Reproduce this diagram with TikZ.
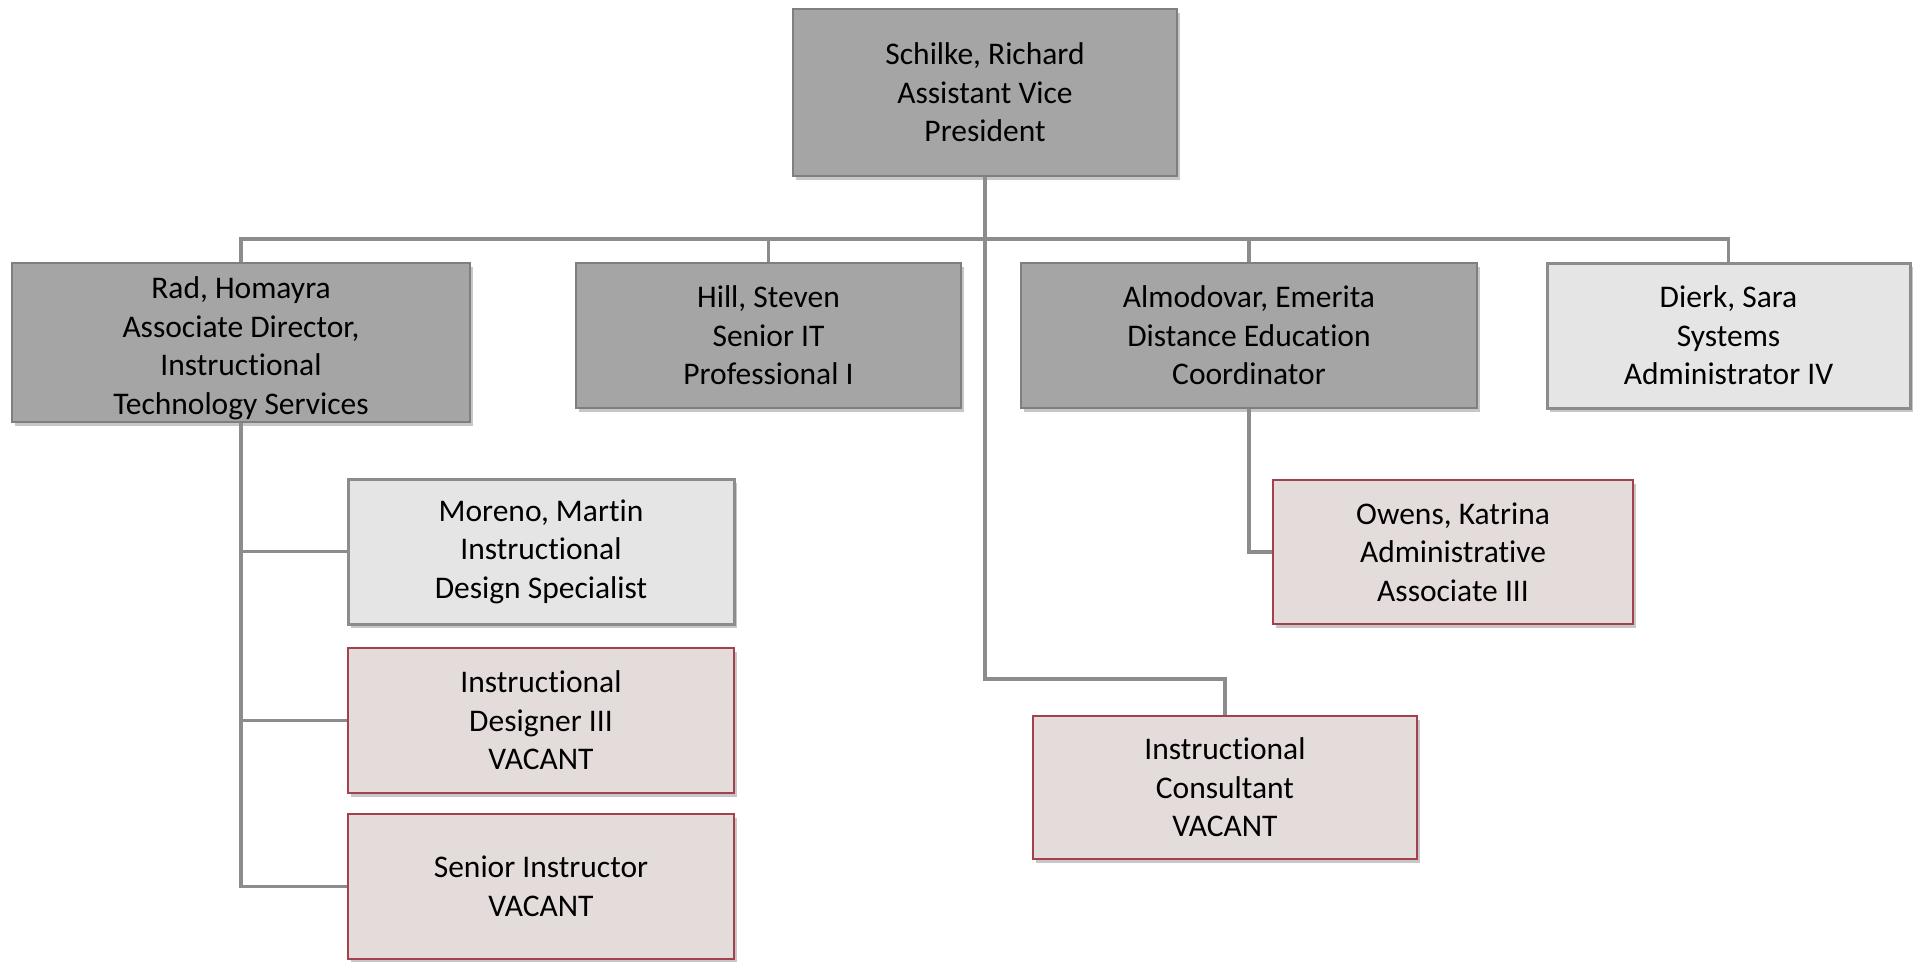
\documentclass[tikz,border=0pt]{standalone}
\usepackage{fontspec}
\setmainfont{Carlito}[Ligatures=NoCommon]
\usetikzlibrary{shadows}
\definecolor{darkfill}{HTML}{A5A5A5}
\definecolor{darkline}{HTML}{7F7F7F}
\definecolor{lightfill}{HTML}{E5E5E5}
\definecolor{lightline}{HTML}{8C8C8C}
\definecolor{pinkfill}{HTML}{E4DCDB}
\definecolor{pinkline}{HTML}{A5414F}
\definecolor{connc}{HTML}{8C8C8C}
\tikzset{
  box/.style={rectangle, inner sep=0pt, align=center, text=black,
    font=\fontsize{31.5}{38.5}\selectfont,
    drop shadow={shadow xshift=3pt, shadow yshift=-4pt, opacity=0.22, fill=black}},
  darkbox/.style={box, fill=darkfill, draw=darkline, line width=2pt},
  lightbox/.style={box, fill=lightfill, draw=lightline, line width=3pt},
  vacbox/.style={box, fill=pinkfill, draw=pinkline, line width=1.5pt},
  conn/.style={draw=connc, line width=3.5pt}
}
\begin{document}
\begin{tikzpicture}[x=1pt, y=-1pt]
\useasboundingbox (0,0) rectangle (1919,961);
\coordinate (bus) at (985,239);
\coordinate (elbow) at (985,679);
\node[darkbox, minimum width=384pt, minimum height=167pt] (top) at (985,92.5) {Schilke, Richard\\Assistant Vice\\President};
\node[darkbox, minimum width=458pt, minimum height=159pt] (rad) at (241,342.5) {\rule{0pt}{33pt}Rad, Homayra\\Associate Director,\\Instructional\\Technology Services};
\node[darkbox, minimum width=385pt, minimum height=145pt] (hill) at (768.5,335.5) {Hill, Steven\\Senior IT\\Professional I};
\node[darkbox, minimum width=456pt, minimum height=145pt] (alm) at (1249,335.5) {Almodovar, Emerita\\Distance Education\\Coordinator};
\node[lightbox, minimum width=363pt, minimum height=145pt] (dierk) at (1728.5,335.5) {Dierk, Sara\\Systems\\Administrator IV};
\node[lightbox, minimum width=386pt, minimum height=145pt] (moreno) at (541,551.5) {Moreno, Martin\\Instructional\\Design Specialist};
\node[vacbox, minimum width=386pt, minimum height=145pt] (des) at (541,720.5) {Instructional\\Designer III\\VACANT};
\node[vacbox, minimum width=386pt, minimum height=145pt] (senior) at (541,886.5) {Senior Instructor\\VACANT};
\node[vacbox, minimum width=360pt, minimum height=144pt] (owens) at (1453,552) {Owens, Katrina\\Administrative\\Associate III};
\node[vacbox, minimum width=384pt, minimum height=143pt] (consult) at (1225,787.5) {Instructional\\Consultant\\VACANT};
\draw[conn] (top.south) -- (bus);
\draw[conn] (rad.north) |- (bus) -| (dierk.north);
\draw[conn] (hill.north) -- (hill.north |- bus);
\draw[conn] (alm.north) -- (alm.north |- bus);
\draw[conn] (bus) -- (elbow) -| (consult.north);
\draw[conn] (rad.south) |- (senior.west);
\draw[conn] (rad.south |- moreno.west) -- (moreno.west);
\draw[conn] (rad.south |- des.west) -- (des.west);
\draw[conn] (alm.south) |- (owens.west);
\end{tikzpicture}
\end{document}
